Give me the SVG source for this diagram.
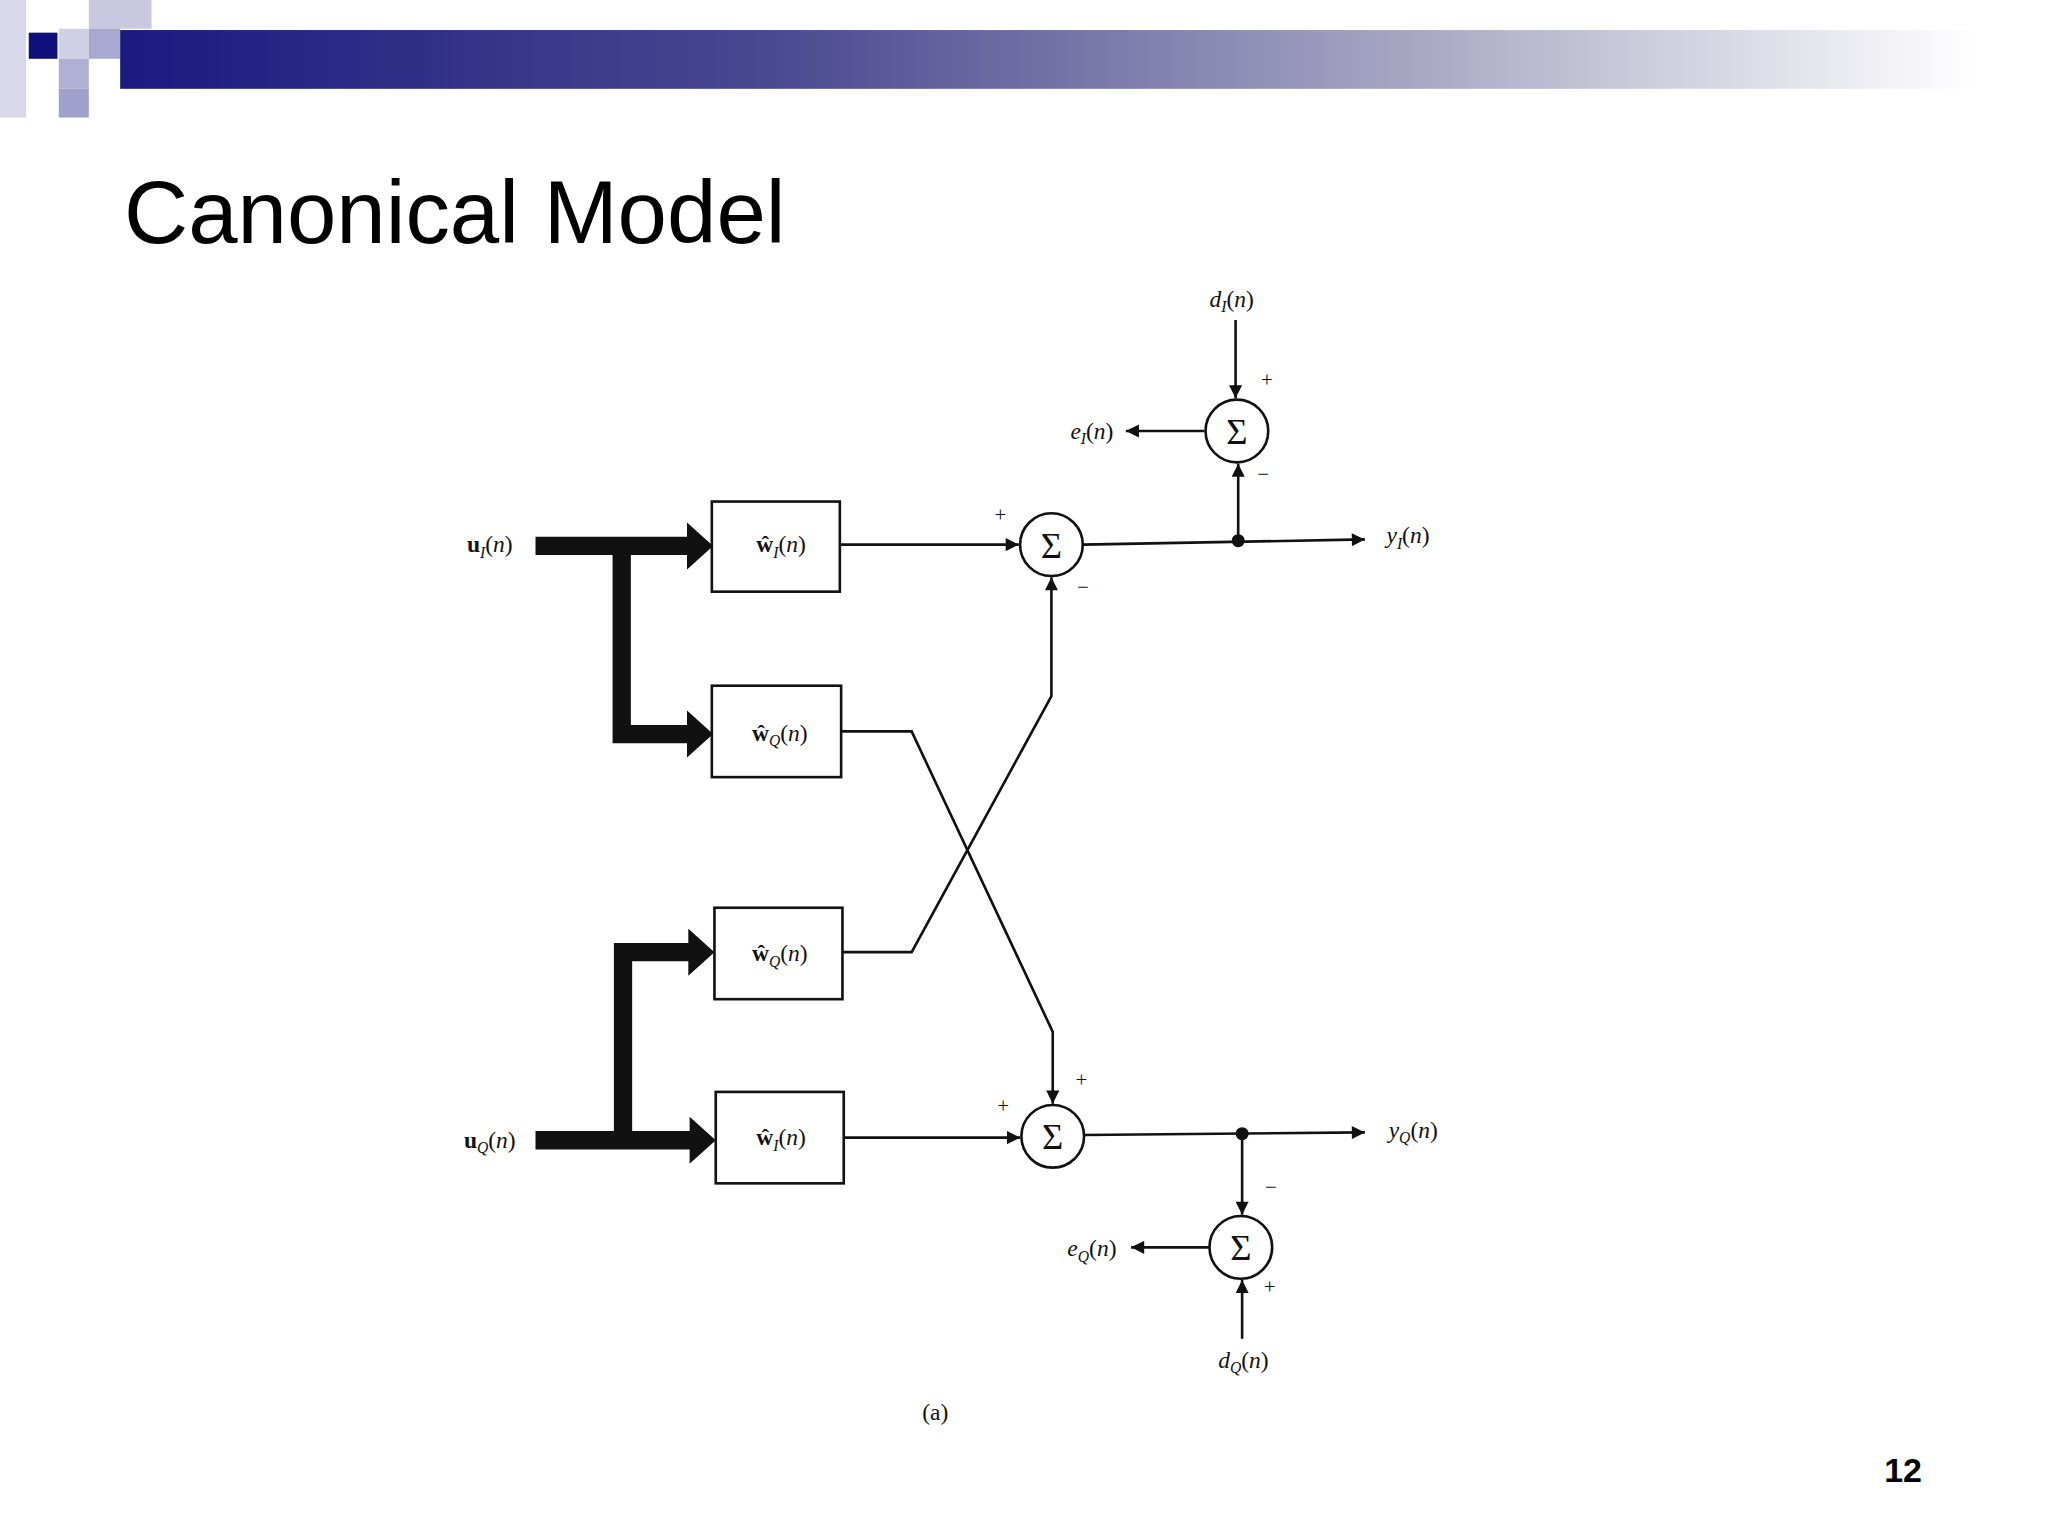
<svg xmlns="http://www.w3.org/2000/svg" width="2048" height="1536" viewBox="0 0 2048 1536">
<defs>
<linearGradient id="bar" x1="0" y1="0" x2="1" y2="0">
<stop offset="0" stop-color="#1a1a80"/><stop offset="0.35" stop-color="#4a4890"/><stop offset="0.7" stop-color="#a8a8c4"/><stop offset="1" stop-color="#ffffff"/>
</linearGradient>
<marker id="ah" viewBox="0 0 10 10" refX="10" refY="5" markerWidth="18" markerHeight="10" markerUnits="userSpaceOnUse" orient="auto"><path d="M0,0 L10,5 L0,10 z" fill="#111"/></marker>
<style>
.ln{stroke:#111;stroke-width:2;fill:none}
.thk{stroke:#111;stroke-width:14;fill:none}
.box{fill:#fff;stroke:#111;stroke-width:2}
.sum{fill:#fff;stroke:#111;stroke-width:2}
.t{font-family:"Liberation Serif",serif;font-size:18px;fill:#111}
.s{font-family:"Liberation Serif",serif;font-size:28px;fill:#111}
.pm{font-family:"Liberation Serif",serif;font-size:16px;fill:#111}
</style>
</defs>
<rect width="2048" height="1536" fill="#fff"/>
<g transform="scale(1.30612)">
<g id="header">
<rect x="0" y="0" width="20" height="90" fill="#d8d8ea"/>
<rect x="68" y="0" width="48" height="22" fill="#c8c8e0"/>
<rect x="45" y="22" width="23" height="23" fill="#d0d0e6"/>
<rect x="68" y="22" width="24" height="23" fill="#a8a8d0"/>
<rect x="45" y="45" width="23" height="23" fill="#b0b0d4"/>
<rect x="45" y="68" width="23" height="22" fill="#a0a0cc"/>
<rect x="22" y="25" width="22" height="20" fill="#10107a"/>
<rect x="92" y="23" width="1420" height="45" fill="url(#bar)"/>
<text x="95" y="186" font-family="Liberation Sans,Arial,sans-serif" font-size="68" fill="#000">Canonical Model</text>
</g>
<g id="connectors">
<path class="thk" d="M410,418 H528"/><path d="M526,400 L546,418 L526,436 z" fill="#111"/>
<path class="thk" d="M476,418 V562 H528"/><path d="M526,544 L546,562 L526,580 z" fill="#111"/>
<path class="thk" d="M410,873 H530"/><path d="M528,855 L548,873 L528,891 z" fill="#111"/>
<path class="thk" d="M477,873 V729 H529"/><path d="M527,711 L547,729 L527,747 z" fill="#111"/>
<path class="ln" d="M643,417 H780" marker-end="url(#ah)"/>
<path class="ln" d="M645,729 H698 L805,533 V442" marker-end="url(#ah)"/>
<path class="ln" d="M644,560 H698 L806,790 V845" marker-end="url(#ah)"/>
<path class="ln" d="M646,871 H781" marker-end="url(#ah)"/>
<path class="ln" d="M829,417 L1045,413" marker-end="url(#ah)"/>
<path class="ln" d="M948,414 V355" marker-end="url(#ah)"/>
<path class="ln" d="M946,245 V305" marker-end="url(#ah)"/>
<path class="ln" d="M922,330 H862" marker-end="url(#ah)"/>
<path class="ln" d="M830,869 L1045,867" marker-end="url(#ah)"/>
<path class="ln" d="M951,868 V930" marker-end="url(#ah)"/>
<path class="ln" d="M926,955 H866" marker-end="url(#ah)"/>
<path class="ln" d="M951,1025 V980" marker-end="url(#ah)"/>
<circle cx="948" cy="414" r="5" fill="#111"/>
<circle cx="951" cy="868" r="5" fill="#111"/>
</g>
<g id="box1"><rect class="box" x="545" y="384" width="98" height="69"/><text class="t" x="598" y="423" text-anchor="middle"><tspan font-weight="bold">ŵ</tspan><tspan font-style="italic" font-size="12" dy="4">I</tspan><tspan dy="-4">(</tspan><tspan font-style="italic">n</tspan>)</text></g>
<g id="box2"><rect class="box" x="545" y="525" width="99" height="70"/><text class="t" x="597" y="567" text-anchor="middle"><tspan font-weight="bold">ŵ</tspan><tspan font-style="italic" font-size="12" dy="4">Q</tspan><tspan dy="-4">(</tspan><tspan font-style="italic">n</tspan>)</text></g>
<g id="box3"><rect class="box" x="547" y="695" width="98" height="70"/><text class="t" x="597" y="736" text-anchor="middle"><tspan font-weight="bold">ŵ</tspan><tspan font-style="italic" font-size="12" dy="4">Q</tspan><tspan dy="-4">(</tspan><tspan font-style="italic">n</tspan>)</text></g>
<g id="box4"><rect class="box" x="548" y="836" width="98" height="70"/><text class="t" x="598" y="877" text-anchor="middle"><tspan font-weight="bold">ŵ</tspan><tspan font-style="italic" font-size="12" dy="4">I</tspan><tspan dy="-4">(</tspan><tspan font-style="italic">n</tspan>)</text></g>
<g id="sum1"><circle class="sum" cx="805" cy="417" r="24"/><text class="s" x="805" y="427" text-anchor="middle">Σ</text></g>
<g id="sum2"><circle class="sum" cx="806" cy="870" r="24"/><text class="s" x="806" y="880" text-anchor="middle">Σ</text></g>
<g id="sum3"><circle class="sum" cx="947" cy="330" r="24"/><text class="s" x="947" y="340" text-anchor="middle">Σ</text></g>
<g id="sum4"><circle class="sum" cx="950" cy="955" r="24"/><text class="s" x="950" y="965" text-anchor="middle">Σ</text></g>
<g id="labels">
<text class="t" x="375" y="423" text-anchor="middle"><tspan font-weight="bold">u</tspan><tspan font-style="italic" font-size="12" dy="4">I</tspan><tspan dy="-4">(</tspan><tspan font-style="italic">n</tspan>)</text>
<text class="t" x="375" y="879" text-anchor="middle"><tspan font-weight="bold">u</tspan><tspan font-style="italic" font-size="12" dy="4">Q</tspan><tspan dy="-4">(</tspan><tspan font-style="italic">n</tspan>)</text>
<text class="t" x="1078" y="416" text-anchor="middle" font-style="italic">y<tspan font-size="12" dy="4">I</tspan><tspan dy="-4" font-style="normal">(</tspan>n<tspan font-style="normal">)</tspan></text>
<text class="t" x="1082" y="871" text-anchor="middle" font-style="italic">y<tspan font-size="12" dy="4">Q</tspan><tspan dy="-4" font-style="normal">(</tspan>n<tspan font-style="normal">)</tspan></text>
<text class="t" x="943" y="235" text-anchor="middle" font-style="italic">d<tspan font-size="12" dy="4">I</tspan><tspan dy="-4" font-style="normal">(</tspan>n<tspan font-style="normal">)</tspan></text>
<text class="t" x="952" y="1047" text-anchor="middle" font-style="italic">d<tspan font-size="12" dy="4">Q</tspan><tspan dy="-4" font-style="normal">(</tspan>n<tspan font-style="normal">)</tspan></text>
<text class="t" x="836" y="336" text-anchor="middle" font-style="italic">e<tspan font-size="12" dy="4">I</tspan><tspan dy="-4" font-style="normal">(</tspan>n<tspan font-style="normal">)</tspan></text>
<text class="t" x="836" y="962" text-anchor="middle" font-style="italic">e<tspan font-size="12" dy="4">Q</tspan><tspan dy="-4" font-style="normal">(</tspan>n<tspan font-style="normal">)</tspan></text>
<text class="pm" x="766" y="400" text-anchor="middle">+</text>
<text class="pm" x="829" y="455" text-anchor="middle">−</text>
<text class="pm" x="828" y="832" text-anchor="middle">+</text>
<text class="pm" x="768" y="852" text-anchor="middle">+</text>
<text class="pm" x="970" y="296" text-anchor="middle">+</text>
<text class="pm" x="967" y="368" text-anchor="middle">−</text>
<text class="pm" x="973" y="914" text-anchor="middle">−</text>
<text class="pm" x="972" y="991" text-anchor="middle">+</text>
<text class="t" x="716" y="1087" text-anchor="middle">(a)</text>
<text x="1457" y="1135" text-anchor="middle" font-family="Liberation Sans,Arial,sans-serif" font-weight="bold" font-size="26" fill="#000">12</text>
</g>
</g>
</svg>
